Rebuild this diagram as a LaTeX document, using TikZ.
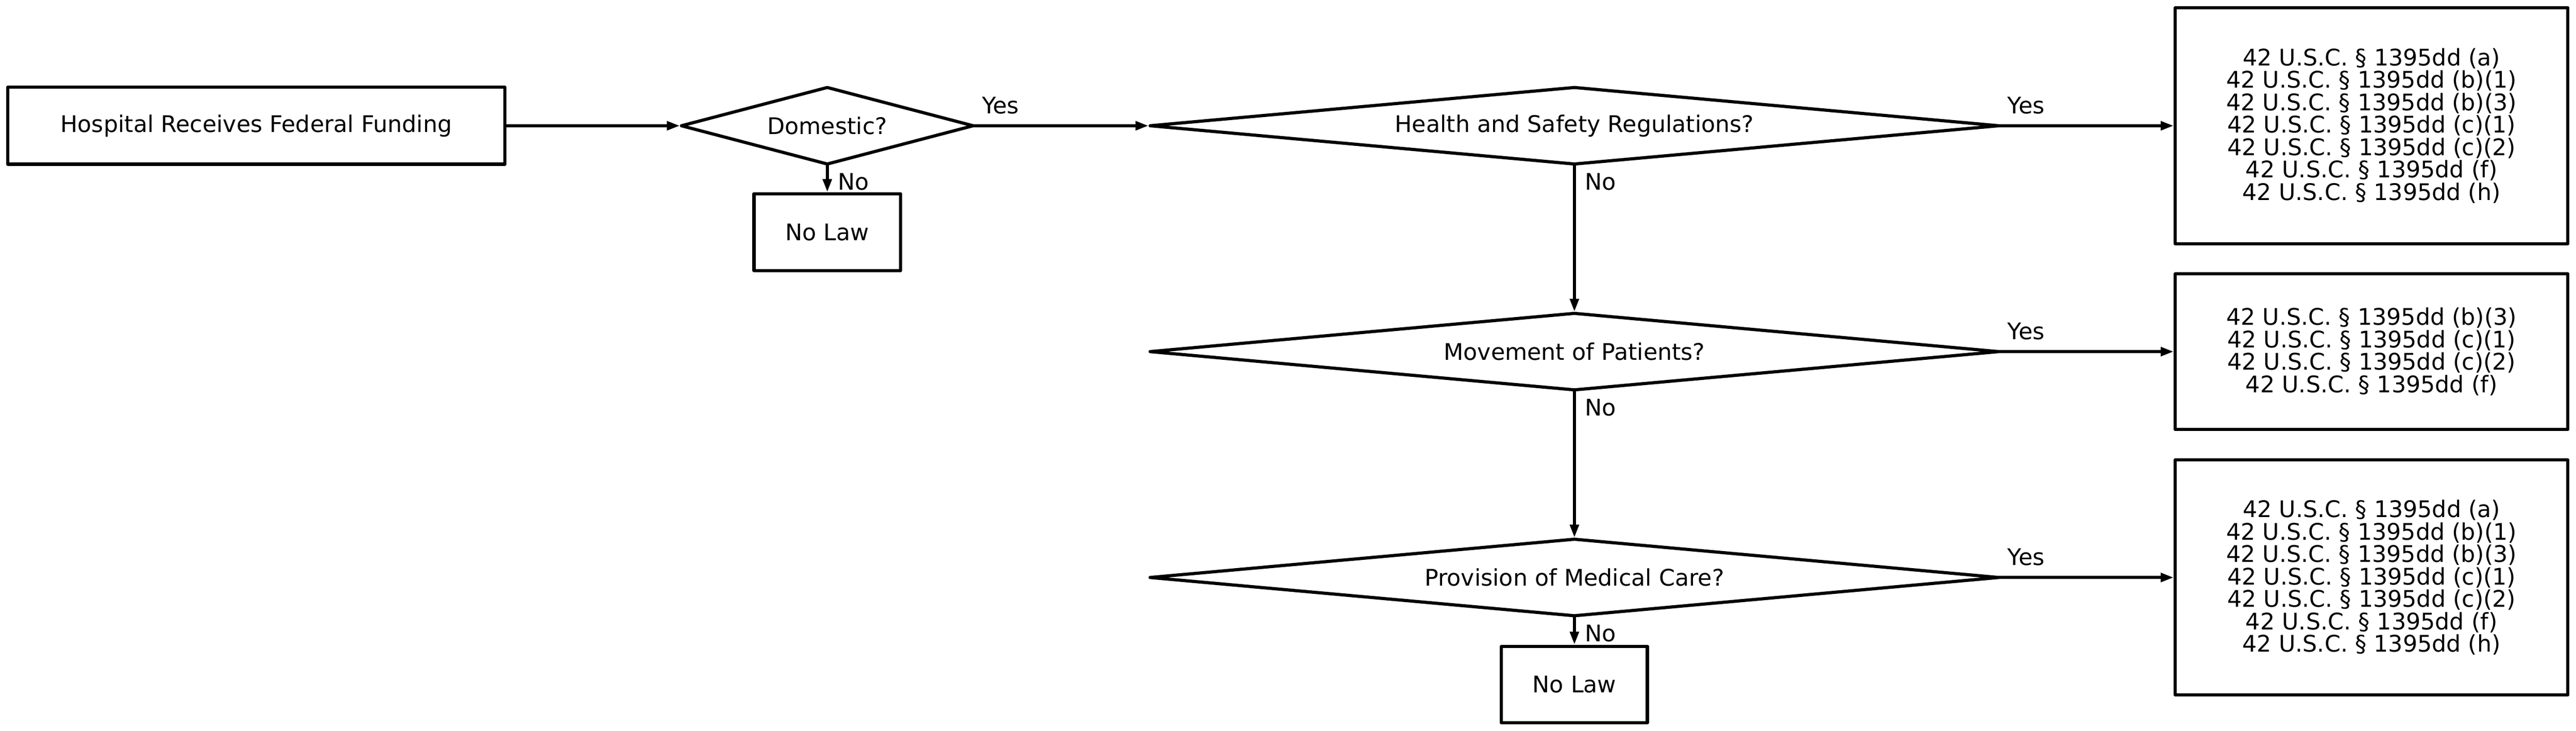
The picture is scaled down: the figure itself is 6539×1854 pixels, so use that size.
\documentclass[tikz,border=0pt]{standalone}
\usepackage{fontspec}
\setmainfont{DejaVu Sans}
\usetikzlibrary{shapes.geometric,arrows.meta}
\tikzset{
  txt/.style={font=\fontsize{16.5pt}{16.16pt}\selectfont},
  box/.style={txt, draw, rectangle, line width=0.08cm, line join=round, inner sep=0pt, outer sep=0pt, align=center},
  dia/.style={txt, draw, diamond, line width=0.08cm, line join=round, inner sep=0pt, outer sep=0pt},
  conn/.style={line width=0.08cm, -{Triangle[length=0.33cm,width=0.22cm]}, shorten >=0.04cm},
  yeslbl/.style={txt, pos=0, anchor=base west, inner sep=0pt, xshift=0.185cm, yshift=0.31cm},
  nolbl/.style={txt, pos=0, anchor=base west, inner sep=0pt, xshift=0.23cm, yshift=-0.66cm}
}
\begin{document}
\begin{tikzpicture}[x=0.01cm,y=-0.01cm]
\useasboundingbox (0,0) rectangle (6539,1854);
\node[box, minimum width=12.61cm, minimum height=1.95cm] (hosp) at (650.5,319) {Hospital Receives Federal Funding};
\node[dia, minimum width=7.40cm, minimum height=1.94cm, aspect=3.8] (dom) at (2100,319) {Domestic?};
\node[box, minimum width=3.72cm, minimum height=1.95cm] (nolaw1) at (2100,589) {No Law};
\node[dia, minimum width=21.53cm, minimum height=1.94cm, aspect=11.1] (hs) at (3996.5,319) {Health and Safety Regulations?};
\node[dia, minimum width=21.53cm, minimum height=1.94cm, aspect=11.1] (mov) at (3996.5,892) {Movement of Patients?};
\node[dia, minimum width=21.53cm, minimum height=1.94cm, aspect=11.1] (prov) at (3996.5,1465) {Provision of Medical Care?};
\node[box, minimum width=3.70cm, minimum height=1.94cm] (nolaw2) at (3996.5,1736.5) {No Law};
\node[box, minimum width=9.96cm, minimum height=5.98cm] (r1) at (6020,319) {42 U.S.C. § 1395dd (a)\\42 U.S.C. § 1395dd (b)(1)\\42 U.S.C. § 1395dd (b)(3)\\42 U.S.C. § 1395dd (c)(1)\\42 U.S.C. § 1395dd (c)(2)\\42 U.S.C. § 1395dd (f)\\42 U.S.C. § 1395dd (h)};
\node[box, minimum width=9.96cm, minimum height=3.94cm] (r2) at (6020,892) {42 U.S.C. § 1395dd (b)(3)\\42 U.S.C. § 1395dd (c)(1)\\42 U.S.C. § 1395dd (c)(2)\\42 U.S.C. § 1395dd (f)};
\node[box, minimum width=9.96cm, minimum height=5.96cm] (r3) at (6020,1465) {42 U.S.C. § 1395dd (a)\\42 U.S.C. § 1395dd (b)(1)\\42 U.S.C. § 1395dd (b)(3)\\42 U.S.C. § 1395dd (c)(1)\\42 U.S.C. § 1395dd (c)(2)\\42 U.S.C. § 1395dd (f)\\42 U.S.C. § 1395dd (h)};
\draw[conn] (hosp.east) -- (dom.west);
\draw[conn] (dom.east) -- node[yeslbl] (ly1) {Yes} (hs.west);
\draw[conn] (dom.south) -- node[nolbl] (ln1) {No} (nolaw1.north);
\draw[conn] (hs.east) -- node[yeslbl] (ly2) {Yes} (r1.west);
\draw[conn] (hs.south) -- node[nolbl] (ln2) {No} (mov.north);
\draw[conn] (mov.east) -- node[yeslbl] (ly3) {Yes} (r2.west);
\draw[conn] (mov.south) -- node[nolbl] (ln3) {No} (prov.north);
\draw[conn] (prov.east) -- node[yeslbl] (ly4) {Yes} (r3.west);
\draw[conn] (prov.south) -- node[nolbl] (ln4) {No} (nolaw2.north);
\end{tikzpicture}
\end{document}
